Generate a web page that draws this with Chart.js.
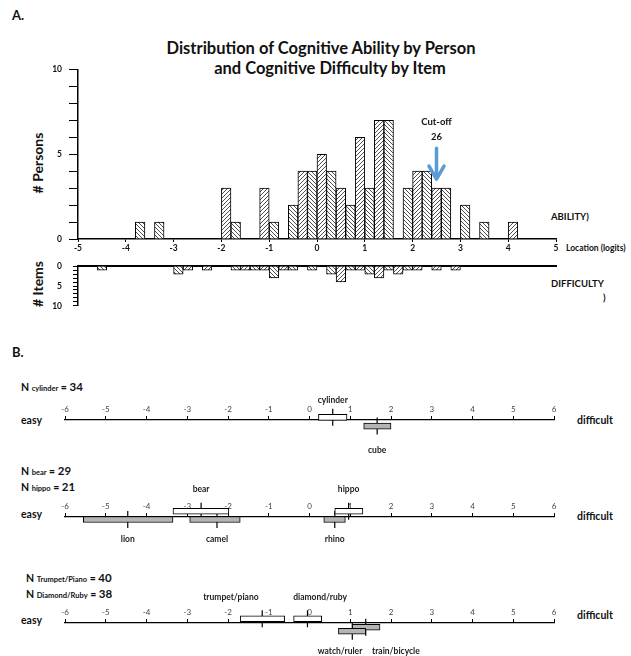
<!DOCTYPE html>
<html>
<head>
<meta charset="utf-8">
<script src="https://cdn.jsdelivr.net/npm/chart.js@4.4.0/dist/chart.umd.min.js"></script>
<style>
  body { margin: 0; background: #fff; font-family: Lato, sans-serif; }
  #page { position: relative; width: 631px; height: 656px; overflow: hidden; }
  canvas { position: absolute; left: 0; }
  .t { position: absolute; white-space: nowrap; font-weight: bold; color: #111; line-height: 1; transform: translateY(-50%); }
  .c { transform: translate(-50%, -50%); }
  .r { transform: translate(-50%, -50%) rotate(-90deg); }
  .sm { font-size: 7.5px; }
</style>
</head>
<body>
<div id="page">
  <div class="t" style="left:12px;top:15px;font-size:13px">A.</div>
  <div class="t c" style="left:321px;top:48px;font-size:16.5px">Distribution of Cognitive Ability by Person</div>
  <div class="t c" style="left:330px;top:68px;font-size:16.5px">and Cognitive Difficulty by Item</div>
  <div class="t r" style="left:38px;top:163px;font-size:14px"># Persons</div>
  <div class="t r" style="left:38px;top:284px;font-size:14px"># Items</div>
  <div class="t" style="left:566px;top:248px;font-size:8.5px">Location (logits)</div>
  <div class="t" style="left:551px;top:217px;font-size:9.5px">ABILITY)</div>
  <div class="t" style="left:551px;top:284px;font-size:9.5px">DIFFICULTY</div>
  <div class="t" style="left:603px;top:298px;font-size:9.5px">)</div>
  <div class="t" style="left:12px;top:352px;font-size:13px">B.</div>
  <div id="nlabels"></div>

  <canvas id="persons" width="631" height="262" style="top:0px"></canvas>
  <canvas id="items" width="631" height="72" style="top:250px"></canvas>
  <canvas id="row1" width="631" height="75" style="top:385px"></canvas>
  <canvas id="row2" width="631" height="70" style="top:482px"></canvas>
  <canvas id="row3" width="631" height="68" style="top:588px"></canvas>
</div>

<script>
// Panel A: 0.2-logit bins (left edge) and counts

const personBins = [-3.8, -3.4, -2.0, -1.8, -1.2, -1.0, -0.6, -0.4, -0.2, 0.0, 0.2, 0.4, 0.6, 0.8, 1.0, 1.2, 1.4, 1.8, 2.0, 2.2, 2.4, 2.6, 3.0, 3.4, 4.0];
const personCounts = [1, 1, 3, 1, 3, 1, 2, 4, 4, 5, 4, 3, 2, 6, 3, 7, 7, 3, 4, 4, 3, 3, 2, 1, 1];

const itemBins = [-4.6, -3.0, -2.8, -2.4, -1.8, -1.6, -1.4, -1.2, -1.0, -0.8, -0.6, -0.2, 0.2, 0.4, 0.6, 0.8, 1.0, 1.2, 1.4, 1.6, 1.8, 2.0, 2.4, 2.8];
const itemCounts = [1, 2, 1, 1, 1, 1, 1, 1, 3, 1, 1, 1, 2, 4, 1, 1, 2, 3, 1, 2, 1, 1, 1, 1];

const cutoffAt = 2.5;
const cutoffLabel = ['Cut-off', '26'];

// Panel B: item difficulty ranges (logits)

const row1Names = ['cylinder', 'cube'];
const row1Low = [0.22, 1.33];
const row1High = [0.92, 2.0];
const row1Mean = [0.57, 1.66];

const row2Names = ['bear', 'hippo', 'lion', 'camel', 'rhino'];
const row2Low = [-3.35, 0.62, -5.55, -2.94, 0.35];
const row2High = [-1.98, 1.31, -3.35, -1.70, 0.88];
const row2Mean = [-2.66, 0.96, -4.46, -2.27, 0.62];

const row3Names = ['trumpet/piano', 'diamond/ruby', 'train/bicycle', 'watch/ruler'];
const row3Low = [-1.70, -0.39, 1.05, 0.71];
const row3High = [-0.61, 0.30, 1.73, 1.38];
const row3Mean = [-1.16, -0.05, 1.38, 1.05];

const sampleNames = ['cylinder', 'bear', 'hippo', 'Trumpet/Piano', 'Diamond/Ruby'];
const sampleN = [34, 29, 21, 40, 38];

// layout: px offset from the axis line, label offset, fill
const GRAY = '#b4b4b4';
const boxLayout = {
  'cylinder':      { lane: -3.5, labelDy: -20, fill: '#fff' },
  'cube':          { lane: 8,    labelDy: 30,  fill: GRAY },
  'bear':          { lane: -8,   labelDy: -28, fill: '#fff' },
  'hippo':         { lane: -8,   labelDy: -28, fill: '#fff' },
  'lion':          { lane: 3.5,  labelDy: 22,  fill: GRAY },
  'camel':         { lane: 3.5,  labelDy: 22,  fill: GRAY },
  'rhino':         { lane: 3.5,  labelDy: 22,  fill: GRAY },
  'trumpet/piano': { lane: -6,   labelDy: -26, fill: '#fff', labelAt: -1.93 },
  'diamond/ruby':  { lane: -6,   labelDy: -26, fill: '#fff', labelAt: 0.26 },
  'train/bicycle': { lane: 6,    labelDy: 28,  fill: GRAY, labelAt: 2.12 },
  'watch/ruler':   { lane: 11.7, labelDy: 28,  fill: GRAY, labelAt: 0.75 }
};
const nLabelPos = [[21, 387], [21, 471], [21, 487], [26, 578], [26, 594]];
const easyY = [420, 514, 620];
const difficultY = [420, 516, 615];

Chart.defaults.font.family = 'Lato, sans-serif';
Chart.defaults.color = '#111';

// text labels for panel B
const nl = document.getElementById('nlabels');
sampleNames.forEach(function(name, i) {
  const d = document.createElement('div');
  d.className = 't';
  d.style.left = nLabelPos[i][0] + 'px';
  d.style.top = nLabelPos[i][1] + 'px';
  d.style.fontSize = '10.5px';
  d.innerHTML = 'N <span class="sm">' + name + '</span> = <span style="font-size:11.5px">' + sampleN[i] + '</span>';
  nl.appendChild(d);
});
easyY.forEach(function(y) {
  const d = document.createElement('div');
  d.className = 't';
  d.style.cssText = 'left:21px;top:' + y + 'px;font-size:10.5px';
  d.textContent = 'easy';
  nl.appendChild(d);
});
difficultY.forEach(function(y) {
  const d = document.createElement('div');
  d.className = 't';
  d.style.cssText = 'left:577px;top:' + y + 'px;font-size:10.5px';
  d.textContent = 'difficult';
  nl.appendChild(d);
});

// hatch patterns
function hatch(up) {
  const s = 4;
  const c = document.createElement('canvas');
  c.width = s; c.height = s;
  const g = c.getContext('2d');
  g.fillStyle = '#fff';
  g.fillRect(0, 0, s, s);
  g.strokeStyle = '#222';
  g.lineWidth = 0.8;
  g.beginPath();
  if (up) {
    g.moveTo(0, s); g.lineTo(s, 0);
    g.moveTo(-1, 1); g.lineTo(1, -1);
    g.moveTo(s - 1, s + 1); g.lineTo(s + 1, s - 1);
  } else {
    g.moveTo(0, 0); g.lineTo(s, s);
    g.moveTo(-1, s - 1); g.lineTo(1, s + 1);
    g.moveTo(s - 1, -1); g.lineTo(s + 1, 1);
  }
  g.stroke();
  return g.createPattern(c, 'repeat');
}
const hatchUp = hatch(true);
const hatchDown = hatch(false);
function binPattern(bin) {
  return Math.round((bin + 5) / 0.2) % 2 === 1 ? hatchUp : hatchDown;
}

function fixWidth(w) { return function(scale) { scale.width = w; }; }
function fixHeight(h) { return function(scale) { scale.height = h; }; }

function histDataset(bins, counts) {
  return {
    data: bins.map(function(b, i) { return { x: +(b + 0.1).toFixed(2), y: counts[i] }; }),
    backgroundColor: function(ctx) { return binPattern(bins[ctx.dataIndex]); },
    borderColor: '#000',
    borderWidth: 1,
    barPercentage: 1,
    categoryPercentage: 1
  };
}

const cutoffArrow = {
  id: 'cutoffArrow',
  afterDatasetsDraw: function(chart) {
    const ctx = chart.ctx;
    const x = chart.scales.x.getPixelForValue(cutoffAt);
    const top = chart.scales.y.getPixelForValue(5.35);
    const tip = chart.scales.y.getPixelForValue(3.48);
    ctx.save();
    ctx.strokeStyle = '#5a9ad6';
    ctx.lineWidth = 3.5;
    ctx.lineCap = 'round';
    ctx.lineJoin = 'round';
    ctx.beginPath();
    ctx.moveTo(x, top);
    ctx.lineTo(x, tip - 1);
    ctx.moveTo(x - 7.5, tip - 14);
    ctx.lineTo(x, tip - 1);
    ctx.lineTo(x + 7.5, tip - 14);
    ctx.stroke();
    ctx.fillStyle = '#111';
    ctx.font = 'bold 9.5px Lato';
    ctx.textAlign = 'center';
    ctx.textBaseline = 'middle';
    ctx.fillText(cutoffLabel[0], x, chart.scales.y.getPixelForValue(6.9));
    ctx.fillText(cutoffLabel[1], x, chart.scales.y.getPixelForValue(6.0));
    ctx.restore();
  }
};

// Persons histogram
new Chart(document.getElementById('persons'), {
  type: 'bar',
  data: { datasets: [histDataset(personBins, personCounts)] },
  options: {
    responsive: false,
    animation: false,
    layout: { padding: { top: 69.5, right: 75, left: 0, bottom: 0 } },
    plugins: { legend: { display: false }, tooltip: { enabled: false } },
    scales: {
      x: {
        type: 'linear', min: -5, max: 5, offset: false,
        afterFit: fixHeight(23),
        border: { color: '#000', width: 1.5 },
        grid: { drawOnChartArea: false, offset: false, tickLength: 3, color: '#000' },
        ticks: { stepSize: 1, padding: 1, font: { size: 8.5, weight: 'bold' }, color: '#111' }
      },
      y: {
        min: 0, max: 10,
        afterFit: fixWidth(78),
        border: { color: '#000', width: 1.5 },
        grid: { drawOnChartArea: false, tickLength: 9, color: '#000' },
        ticks: {
          stepSize: 1, padding: 7, autoSkip: false, font: { size: 8.5, weight: 'bold' }, color: '#111',
          callback: function(v) { return v % 5 === 0 ? v : ''; }
        }
      }
    }
  },
  plugins: [cutoffArrow]
});

// Items histogram (hanging down)
new Chart(document.getElementById('items'), {
  type: 'bar',
  data: { datasets: [histDataset(itemBins, itemCounts)] },
  options: {
    responsive: false,
    animation: false,
    layout: { padding: { top: 13, right: 75, left: 0, bottom: 11 } },
    plugins: { legend: { display: false }, tooltip: { enabled: false } },
    scales: {
      x: {
        type: 'linear', min: -5, max: 5, position: 'top', offset: false,
        afterFit: fixHeight(0),
        border: { color: '#000', width: 2 },
        grid: { display: false, drawTicks: false, offset: false },
        ticks: { display: false }
      },
      y: {
        min: 0, max: 10, reverse: true,
        afterFit: fixWidth(78),
        border: { color: '#000', width: 1.5 },
        grid: { drawOnChartArea: false, tickLength: 5, color: '#000' },
        ticks: {
          stepSize: 1, padding: 11, autoSkip: false, font: { size: 8.5, weight: 'bold' }, color: '#111',
          callback: function(v) { return v % 5 === 0 ? v : ''; }
        }
      }
    }
  }
});

// Panel B number lines
function rowChart(id, names, low, high, mean) {
  const canvas = document.getElementById(id);
  const areaH = canvas.height - 35;
  const boxLabels = {
    id: 'boxLabels',
    afterDatasetsDraw: function(chart) {
      const ctx = chart.ctx;
      const xs = chart.scales.x;
      ctx.save();
      ctx.fillStyle = '#222';
      ctx.font = 'bold 8.5px Lato';
      ctx.textAlign = 'center';
      ctx.textBaseline = 'middle';
      names.forEach(function(n, i) {
        const lay = boxLayout[n];
        const at = lay.labelAt !== undefined ? lay.labelAt : mean[i];
        ctx.fillText(n, xs.getPixelForValue(at), chart.chartArea.top + lay.labelDy);
      });
      ctx.restore();
    }
  };
  new Chart(canvas, {
    type: 'bar',
    data: {
      datasets: [{
        type: 'bar',
        indexAxis: 'y',
        data: names.map(function(n, i) { return { x: [low[i], high[i]], y: boxLayout[n].lane }; }),
        backgroundColor: names.map(function(n) { return boxLayout[n].fill; }),
        borderColor: '#000',
        borderWidth: 1,
        borderSkipped: false,
        barThickness: 6,
        clip: false
      }, {
        type: 'scatter',
        data: names.map(function(n, i) { return { x: mean[i], y: boxLayout[n].lane }; }),
        pointStyle: 'line',
        pointRotation: 90,
        pointRadius: 8.5,
        pointHoverRadius: 8.5,
        pointBorderColor: '#000',
        pointBorderWidth: 1.2,
        clip: false
      }]
    },
    options: {
      responsive: false,
      animation: false,
      layout: { padding: { top: 10, right: 77, left: 65, bottom: 0 } },
      plugins: { legend: { display: false }, tooltip: { enabled: false } },
      scales: {
        x: {
          type: 'linear', min: -6, max: 6, position: 'top', offset: false,
          afterFit: fixHeight(25),
          border: { color: '#000', width: 1.2 },
          grid: { drawOnChartArea: false, offset: false, tickLength: 4, color: '#000' },
          ticks: { stepSize: 1, padding: 2, font: { size: 8 }, color: '#444' }
        },
        y: {
          type: 'linear', min: 0, max: areaH, reverse: true, display: false,
          offset: false, grid: { offset: false }
        }
      }
    },
    plugins: [boxLabels]
  });
}

rowChart('row1', row1Names, row1Low, row1High, row1Mean);
rowChart('row2', row2Names, row2Low, row2High, row2Mean);
rowChart('row3', row3Names, row3Low, row3High, row3Mean);
</script>
</body>
</html>
